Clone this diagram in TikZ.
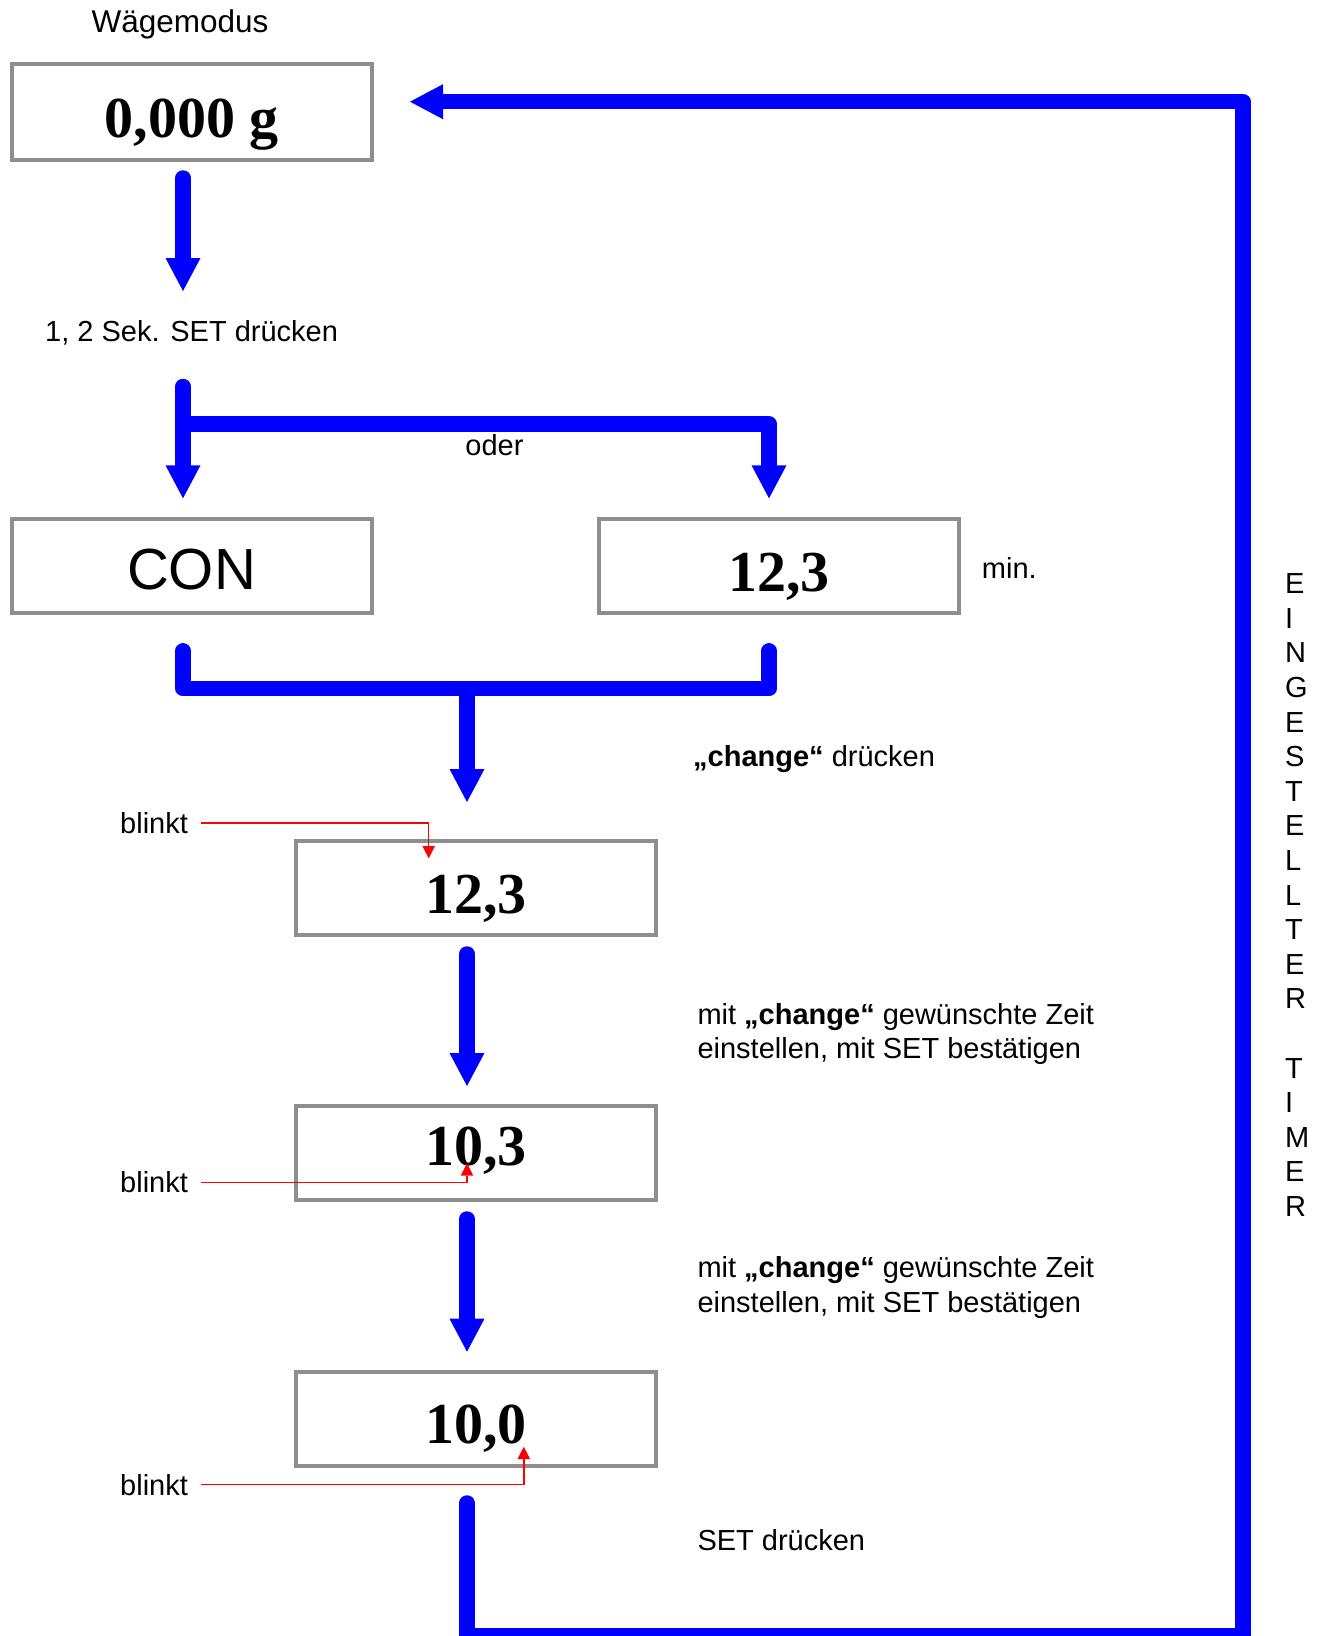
\documentclass[tikz,border=0pt]{standalone}
\usepackage{fontspec}
\setmainfont{Liberation Sans}
\newfontfamily\numfont{Liberation Serif}
\usetikzlibrary{arrows.meta,calc}
\definecolor{boxgray}{RGB}{142,142,142}
\definecolor{fblue}{RGB}{0,0,255}
\definecolor{fred}{RGB}{255,0,0}
\begin{document}
\begin{tikzpicture}[x=1pt,y=-1pt,
  disp/.style={draw=boxgray, line width=4pt, minimum width=360pt, minimum height=94pt, inner sep=0pt,
    font=\fontsize{58}{58}\selectfont\numfont\bfseries, text height=50pt, text depth=0pt},
  dispsans/.style={disp, font=\fontsize{58}{58}\selectfont, text height=47pt},
  lbl/.style={font=\fontsize{29}{34.6}\selectfont, inner sep=0pt},
  flow/.style={draw=fblue, line width=15.5pt, line cap=round, line join=round},
  flowarrow/.style={flow, -{Triangle[width=35pt,length=33pt,line width=0pt]}},
  blink/.style={draw=fred, line width=1.5pt, -{Triangle[width=12.6pt,length=12.3pt,line width=0pt]}}
]
\useasboundingbox (0,0) rectangle (1319,1636);

% display boxes
\node[disp, minimum height=96pt] (B0) at (191.5,112) {0,000 g};
\node[dispsans] (CON) at (191.5,565.5) {CON};
\node[disp] (T1) at (779,566) {12,3};
\node[disp] (M1) at (476,888) {12,3};
\node[disp, text height=25pt] (M2) at (476,1152.5) {10,3};
\node[disp] (M3) at (476,1418.5) {10,0};

% labels
\node[lbl, anchor=base, font=\fontsize{31.5}{34.6}\selectfont] (wm) at (180,32.3) {Wägemodus};
\node[lbl, anchor=base west] (sek) at (45,341.7) {1, 2 Sek. SET drücken};
\node[lbl, anchor=base] (oder) at (494.5,455) {oder};
\node[lbl, anchor=base west] (min) at (981.7,578) {min.};
\node[lbl, anchor=base west] (chg) at (693,766) {\textbf{„change“} drücken};
\node[lbl, anchor=base west, align=left] (z1) at (697.3,1058.7) {mit \textbf{„change“} gewünschte Zeit\\einstellen, mit SET bestätigen};
\node[lbl, anchor=base west, align=left] (z2) at (697.3,1312.3) {mit \textbf{„change“} gewünschte Zeit\\einstellen, mit SET bestätigen};
\node[lbl, anchor=base west] (setd) at (697.3,1550.3) {SET drücken};
\node[lbl, anchor=north west, align=left] (vt) at (1285,573.5) {E\\I\\N\\G\\E\\S\\T\\E\\L\\L\\T\\E\\R\\[34.6pt]T\\I\\M\\E\\R};

\node[lbl, anchor=base west] (bl1) at (120,833.3) {blinkt};
\node[lbl, anchor=base west] (bl2) at (120,1192.7) {blinkt};
\node[lbl, anchor=base west] (bl3) at (120,1495) {blinkt};

% free ends
\coordinate (t1) at ([shift={(-8.5,129)}]B0.south);
\coordinate (s2) at ([shift={(-8.5,-130)}]CON.north);
\coordinate (j2) at ([shift={(-8.5,-92.7)}]CON.north);
\coordinate (j3) at ([shift={(-9,-199.3)}]M1.center);
\coordinate (c1) at (1243,1636);
\coordinate (r1) at ([shift={(-47.3,-29.7)}]M1.center);
\coordinate (r2) at ([shift={(-9,10.8)}]M2.center);
\coordinate (r3) at ([shift={(47.8,28.2)}]M3.center);

% blue flow
\draw[flowarrow] ([shift={(-8.5,16)}]B0.south) -- (t1);
\draw[flowarrow] (s2) -- ([shift={(-8.5,-18.2)}]CON.north);
\draw[flowarrow] (j2) -| ([shift={(-10,-18.7)}]T1.north);
\draw[flow] ([shift={(-8.5,36.3)}]CON.south) |- (j3) -| ([shift={(-10,35.8)}]T1.south);
\draw[flowarrow] (j3) -- ([shift={(-9,-37)}]M1.north);
\draw[flowarrow] ([shift={(-9,17)}]M1.south) -- ([shift={(-9,-17.5)}]M2.north);
\draw[flowarrow] ([shift={(-9,17.5)}]M2.south) -- ([shift={(-9,-17.8)}]M3.north);
\draw[flowarrow] ([shift={(-9,35.5)}]M3.south) |- (c1) |- ([shift={(36.5,-10.3)}]B0.east);

% red markers
\draw[blink] ([xshift=13pt]bl1.east) -| (r1);
\draw[blink] ([xshift=13pt]bl2.east) -| (r2);
\draw[blink] ([xshift=13pt]bl3.east) -| (r3);
\end{tikzpicture}
\end{document}
